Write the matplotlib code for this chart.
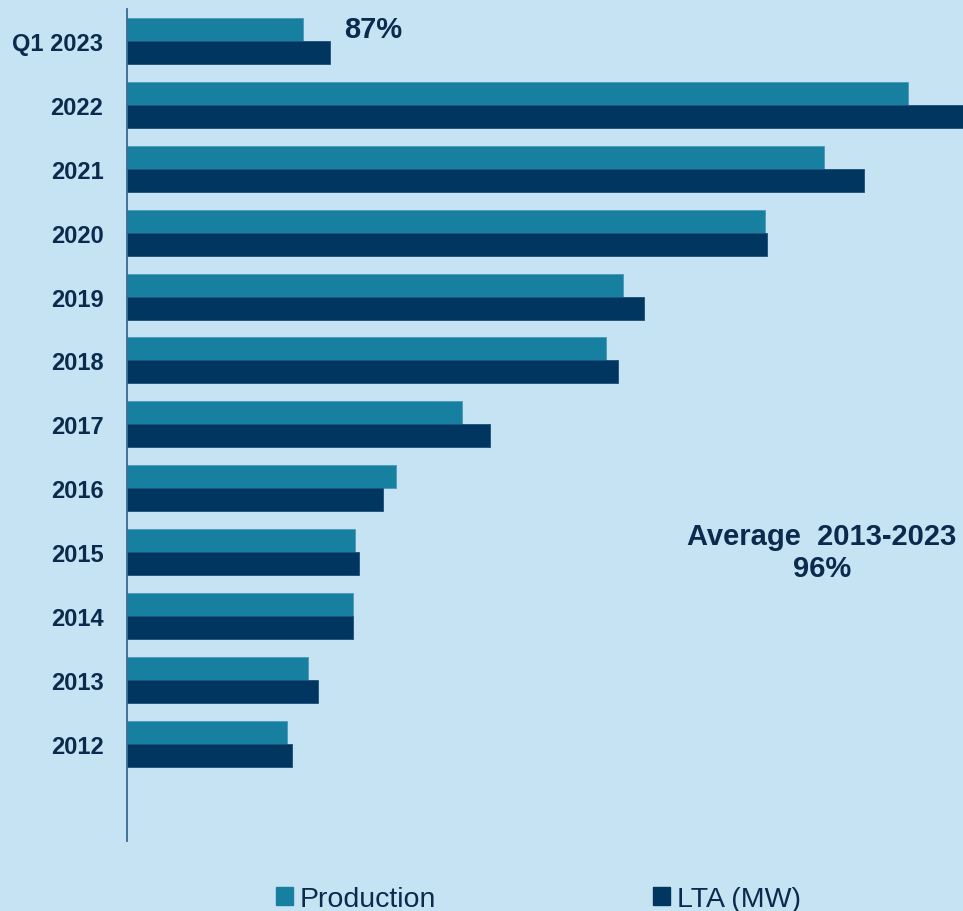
import matplotlib.pyplot as plt
import numpy as np
from matplotlib.patches import Patch

plt.rcParams['font.family'] = ['Liberation Sans', 'DejaVu Sans']

# categories listed top to bottom
years = ['Q1 2023', '2022', '2021', '2020', '2019', '2018', '2017',
         '2016', '2015', '2014', '2013', '2012']
production = [176, 781, 697, 638, 496, 479, 335, 269, 228, 226, 181, 160]
lta = [203, 850, 737, 640, 517, 491, 363, 256, 232, 226, 191, 165]

bg = '#c5e3f3'
c_prod = '#177fa0'
c_lta = '#003660'
txt = '#0b2a4d'

fig = plt.figure(figsize=(9.63, 9.12), dpi=100, facecolor=bg)
ax = fig.add_axes([127 / 963, 70 / 912, 836 / 963, 832 / 912])
ax.set_facecolor(bg)

n = len(years)
pos = np.arange(n)[::-1]
h = 0.36
ax.barh(pos + h / 2, production, h, color=c_prod, edgecolor='#4a9ab8', linewidth=0.6)
ax.barh(pos - h / 2, lta, h, color=c_lta, edgecolor='#1c4f7a', linewidth=0.6)

ax.set_xlim(0, 836)
ax.set_ylim(-1.52, n - 0.5)
ax.set_yticks(pos)
ax.set_yticklabels(years, fontsize=17, fontweight='bold', color=txt)
ax.tick_params(axis='y', length=0, pad=17)
ax.set_xticks([])
for s in ['top', 'right', 'bottom']:
    ax.spines[s].set_visible(False)
ax.spines['left'].set_color('#3a6a90')
ax.spines['left'].set_linewidth(1.3)

ax.text(217, n - 1 + 0.19, '87%', fontsize=21, fontweight='bold', color=txt,
        ha='left', va='center')
ax.text(695, 3.0, 'Average  2013-2023\n96%', fontsize=21, fontweight='bold',
        color=txt, ha='center', va='center', linespacing=1.2)

handles = [Patch(color=c_prod, label='Production'), Patch(color=c_lta, label='LTA (MW)')]
fig.legend(handles=handles, loc='center', bbox_to_anchor=(0.559, 0.013), ncol=2,
           frameon=False, fontsize=20.5, handlelength=0.6, handleheight=0.6,
           handletextpad=0.25, columnspacing=7.6, labelcolor=txt)

fig.savefig('out.png', dpi=100, facecolor=bg)
